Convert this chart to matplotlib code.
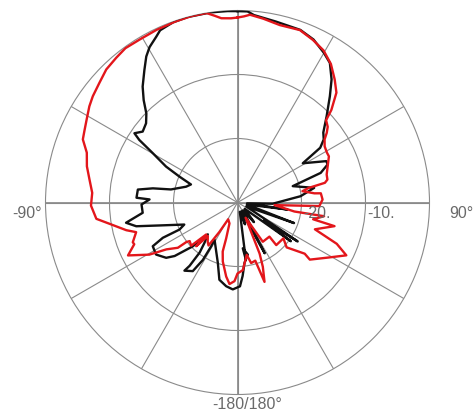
import numpy as np
import matplotlib.pyplot as plt

# traced pattern (angle in deg, clockwise from top; level in dB)
black_deg = [0, 3, 5, 12, 20, 25, 30, 33.5, 37.4, 41, 45.9, 50.8, 53.8, 56.5, 59, 65,
             67.1, 70.4, 73.5, 79.2, 84.3, 92, 95, 98, 102, 110, 114, 122.9, 124.5, 126,
             131, 140, 145, 151.8, 156, 161, 166, 171.7, 173.4, 168.8, 173.4, 176, 178.3,
             -176.9, -172.3, -166.8, -161.9, -148.1, -149, -148.9, -146.9, -142.1, -142.9,
             -142.9, -140.6, -137, -134.4, -130.4, -127.8, -122.6, -117.3, -115.3, -115,
             -112.5, -106.4, -103.2, -100.3, -96.2, -91.2, -88, -87.3, -82.6, -80.5, -78.9,
             -72.9, -68.8, -66, -63.3, -59.8, -57.5, -56.1, -53.2, -49.1, -45.7, -42.5,
             -39.3, -35.1, -32, -29.5, -26.1, -24.2, -19.7, -15, -8, -3, 0]
black_db = [-0.1, -0.1, -0.6, -1.1, -1.3, -1.9, -3.0, -3.85, -5.8, -8.0, -10.6, -12.7, -13.3,
            -14.5, -18.1, -14.7, -14.7, -16.2, -21.0, -17.8, -20.1, -24.5, -28.5, -22.1,
            -28.5, -20.6, -28.5, -18.8, -25.0, -19.7, -28.5, -26.0, -28.5, -21.0, -28.5,
            -26.4, -28.5, -21.0, -22.8, -21.7, -20.5, -18.5, -16.9, -16.4, -16.8, -17.6,
            -20.1, -23.2, -22.0, -19.5, -17.2, -16.5, -17.6, -20.2, -21.9, -23.2, -20.2,
            -17.1, -15.9, -14.9, -15.1, -17.1, -20.0, -21.0, -17.3, -13.75, -12.3, -15.1,
            -15.0, -16.25, -14.2, -14.3, -16.6, -19.4, -21.6, -22.2, -20.1, -17.5, -14.7,
            -11.8, -10.6, -11.5, -11.1, -10.1, -8.3, -6.6, -4.7, -3.1, -2.1, -1.15, -0.5,
            -0.1, 0.0, 0.0, -0.05, -0.1]

red_deg = [0, 2, 3.8, 8, 13.4, 19.9, 24.9, 29.5, 34, 38.3, 42, 45.4, 47.1, 50, 52, 54.1,
           57.2, 60.9, 63.2, 68, 72.6, 75.7, 77.3, 78.4, 80.1, 83.2, 83.7, 88, 92.5, 94,
           99, 99, 102.5, 103.7, 109.1, 112.6, 115.9, 121.2, 128.3, 127.3, 132.4, 128,
           137.7, 136.9, 147.2, 152, 156.6, 158.5, 161.2, 163, 167.3, 170, 175.5, 180,
           -177.8, -174.4, -171.3, -166, -163.2, -162.5, -159, -151, -148.4, -146, -142.8,
           -138.5, -136.6, -135.6, -133, -128.9, -127.7, -127.2, -123.4, -120.6, -115.8,
           -112, -110.8, -106.3, -104, -99.4, -96.6, -91.2, -86.2, -81.2, -76.5, -71.7,
           -67.8, -65, -61.2, -57, -53.7, -49.1, -44.6, -40, -36, -31, -25, -19, -14,
           -9.3, -7, -5, -2, 0]
red_db = [-1.1, -0.9, -0.6, -1.0, -1.5, -1.35, -2.0, -2.7, -3.9, -5.5, -6.9, -9.4, -11.1,
          -11.6, -12.3, -13.2, -13.8, -14.0, -14.0, -14.8, -15.4, -15.5, -16.0, -18.6,
          -19.7, -17.9, -16.9, -16.7, -17.2, -24.2, -21.0, -16.3, -17.9, -14.4, -17.2,
          -13.2, -11.1, -13.4, -15.6, -16.8, -19.6, -20.9, -21.0, -22.7, -22.7, -27.3,
          -21.3, -19.2, -16.9, -20.5, -20.3, -21.7, -19.4, -18.9, -17.7, -17.2, -18.3,
          -20.5, -22.0, -24.1, -26.5, -27.0, -24.6, -21.9, -22.3, -23.0, -20.6, -23.0,
          -20.1, -20.4, -19.9, -18.3, -16.7, -14.0, -11.0, -12.6, -12.5, -13.5, -12.1,
          -9.7, -7.8, -7.1, -7.25, -6.6, -5.8, -5.2, -3.9, -3.6, -3.1, -2.4, -1.95, -1.45,
          -0.8, -0.5, -0.2, -0.3, -0.2, -0.1, 0.0, 0.0, -0.6, -1.1, -1.2, -1.1]

ring_levels = [-20, -10]
ring_labels = ["-20.", "-10."]

W, H = 475, 412
cx, cy, rad = 237.5, 202.5, 192.0
grey = "#8a8a8a"
txt = "#6a6a6a"

fig = plt.figure(figsize=(W / 100, H / 100), dpi=100)
ax = fig.add_axes([(cx - rad) / W, (H - cy - rad) / H, 2 * rad / W, 2 * rad / H],
                  projection="polar")
ax.set_theta_zero_location("N")
ax.set_theta_direction(-1)
ax.set_ylim(-30, 0)
ax.set_thetagrids(range(0, 360, 30), labels=[])
ax.set_rgrids(ring_levels, labels=[])
ax.grid(True, color=grey, lw=0.8)
ax.spines["polar"].set_color(grey)
ax.spines["polar"].set_linewidth(0.8)
ax.tick_params(length=0)

# main axes a bit darker
for a in (0, 90):
    t = np.deg2rad(a)
    ax.plot([t, t], [-30, 0], color="#7a7a7a", lw=1.1, zorder=1)
    ax.plot([t + np.pi, t + np.pi], [-30, 0], color="#7a7a7a", lw=1.1, zorder=1)

ax.plot(np.deg2rad(black_deg), black_db, color="#111111", lw=1.7, zorder=3)
ax.plot(np.deg2rad(red_deg), red_db, color="#e3161b", lw=1.7, zorder=4)
ax.set_ylim(-30, 0)


def label(x, y, s, ha="left"):
    fig.text(x / W, 1 - y / H, s, ha=ha, va="top", color=txt,
             fontsize=11.5, family="Liberation Sans")


for lev, s in zip(ring_levels, ring_labels):
    label(cx + (lev + 30) / 30 * rad + 2, 206, s)
label(449, 206, "90°")
label(42, 206, "-90°", ha="right")
label(212, 397, "-180/180°")

fig.savefig("out.png", dpi=100)
